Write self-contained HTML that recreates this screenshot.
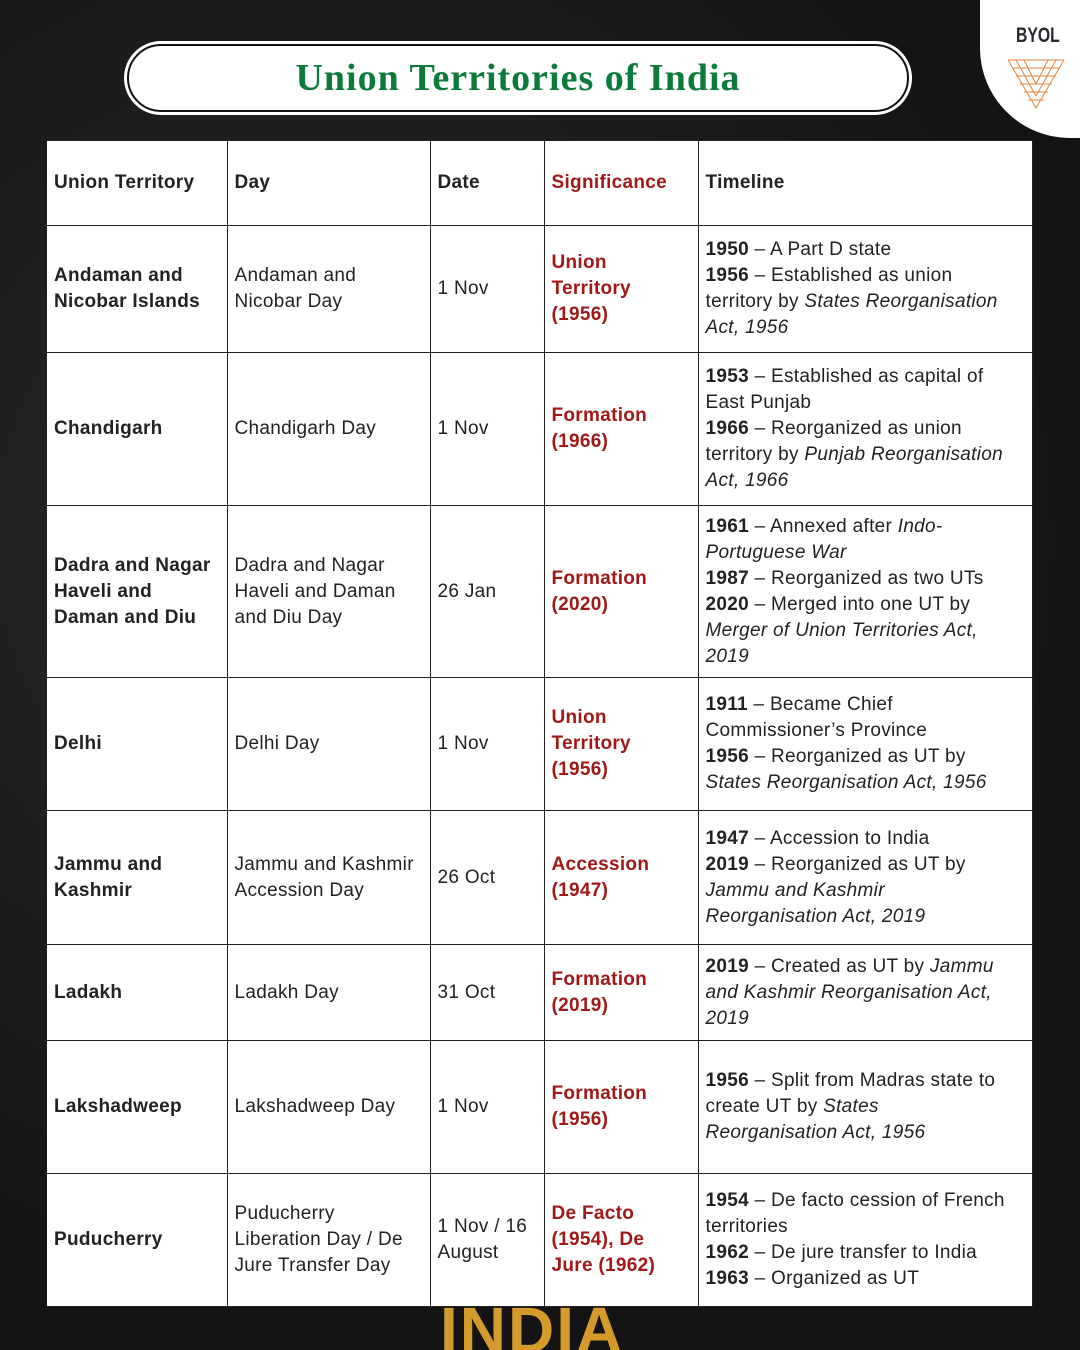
<!DOCTYPE html>
<html style="overflow:hidden"><head><meta charset="utf-8"><style>
html,body{margin:0;width:1080px;height:1350px;overflow:hidden}
body{background:#1c1c1c;position:relative;font-family:"Liberation Sans",sans-serif}
.bg{position:absolute;inset:0;background:radial-gradient(circle at 30% 40%,#2a2a2a,#141414 70%)}
.title{position:absolute;left:127px;top:44px;width:778px;height:64px;background:#fff;border:2px solid #111;border-radius:34px;box-shadow:0 0 0 3px #fff;text-align:center;line-height:64px;font-family:"Liberation Serif",serif;font-weight:bold;font-size:38px;color:#0c7a3a;letter-spacing:1px}
.logo{position:absolute;left:980px;top:-20px;width:180px;height:158px;background:#fff;border-radius:0 0 0 90px}
.logo span{position:absolute;left:36px;top:44px;font-weight:bold;font-size:21px;color:#2a2630;transform:scaleX(0.75);transform-origin:left}
table{position:absolute;left:47px;top:140px;border-collapse:collapse;background:#fff;table-layout:fixed}
td{border:1.5px solid #222;padding:0 7px;vertical-align:middle;font-size:19px;line-height:26px;color:#222;white-space:nowrap;letter-spacing:0.3px;overflow:hidden}
td:first-child{font-weight:bold;border-left:none}
td:nth-child(4){font-weight:bold;color:#a01818}
b{font-weight:bold}
.india{position:absolute;left:440px;top:1300px;font-weight:bold;font-size:64px;color:#d49a2a;letter-spacing:2px;line-height:60px;height:50px;overflow:hidden}
</style></head><body>
<div class="bg"></div>
<div class="logo"><span>BYOL</span>
<svg style="position:absolute;left:26px;top:70px" width="60" height="60" viewBox="0 0 60 60"><g fill="none" stroke="#e8843a" stroke-width="1"><path d="M2 10L30 58L58 10M10 10L30 46L50 10M18 10L30 34L42 10M2 10h56M6 18h48M10 26h40M14 34h32M18 42h24M22 50h16"/></g></svg></div>
<div class="title">Union Territories of India</div>
<table>
<colgroup><col style="width:180px"><col style="width:203px"><col style="width:114px"><col style="width:154px"><col style="width:334px"></colgroup>
<tr style="height:85px"><td>Union Territory</td><td><b>Day</b></td><td><b>Date</b></td><td>Significance</td><td><b>Timeline</b></td></tr>
<tr style="height:127px"><td>Andaman and<br>Nicobar Islands</td><td>Andaman and<br>Nicobar Day</td><td>1 Nov</td><td>Union<br>Territory<br>(1956)</td><td><b>1950</b> – A Part D state<br><b>1956</b> – Established as union<br>territory by <i>States Reorganisation<br>Act, 1956</i></td></tr>
<tr style="height:153px"><td>Chandigarh</td><td>Chandigarh Day</td><td>1 Nov</td><td>Formation<br>(1966)</td><td><b>1953</b> – Established as capital of<br>East Punjab<br><b>1966</b> – Reorganized as union<br>territory by <i>Punjab Reorganisation<br>Act, 1966</i></td></tr>
<tr style="height:172px"><td>Dadra and Nagar<br>Haveli and<br>Daman and Diu</td><td>Dadra and Nagar<br>Haveli and Daman<br>and Diu Day</td><td>26 Jan</td><td>Formation<br>(2020)</td><td><b>1961</b> – Annexed after <i>Indo-<br>Portuguese War</i><br><b>1987</b> – Reorganized as two UTs<br><b>2020</b> – Merged into one UT by<br><i>Merger of Union Territories Act,<br>2019</i></td></tr>
<tr style="height:133px"><td>Delhi</td><td>Delhi Day</td><td>1 Nov</td><td>Union<br>Territory<br>(1956)</td><td><b>1911</b> – Became Chief<br>Commissioner’s Province<br><b>1956</b> – Reorganized as UT by<br><i>States Reorganisation Act, 1956</i></td></tr>
<tr style="height:134px"><td>Jammu and<br>Kashmir</td><td>Jammu and Kashmir<br>Accession Day</td><td>26 Oct</td><td>Accession<br>(1947)</td><td><b>1947</b> – Accession to India<br><b>2019</b> – Reorganized as UT by<br><i>Jammu and Kashmir<br>Reorganisation Act, 2019</i></td></tr>
<tr style="height:96px"><td>Ladakh</td><td>Ladakh Day</td><td>31 Oct</td><td>Formation<br>(2019)</td><td><b>2019</b> – Created as UT by <i>Jammu<br>and Kashmir Reorganisation Act,<br>2019</i></td></tr>
<tr style="height:133px"><td>Lakshadweep</td><td>Lakshadweep Day</td><td>1 Nov</td><td>Formation<br>(1956)</td><td><b>1956</b> – Split from Madras state to<br>create UT by <i>States<br>Reorganisation Act, 1956</i></td></tr>
<tr style="height:133px"><td>Puducherry</td><td>Puducherry<br>Liberation Day / De<br>Jure Transfer Day</td><td>1 Nov / 16<br>August</td><td>De Facto<br>(1954), De<br>Jure (1962)</td><td><b>1954</b> – De facto cession of French<br>territories<br><b>1962</b> – De jure transfer to India<br><b>1963</b> – Organized as UT</td></tr>
</table>
<div class="india">INDIA</div>
</body></html>
